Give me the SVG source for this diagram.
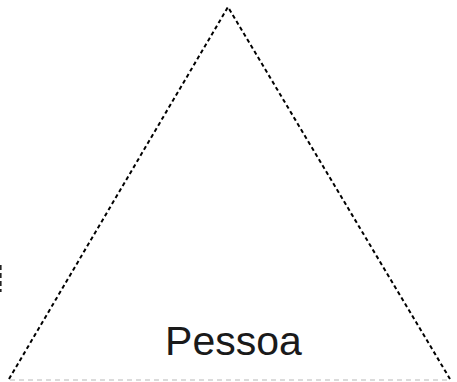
<svg xmlns="http://www.w3.org/2000/svg" width="457" height="382" viewBox="0 0 457 382">
<style>
.tri{fill:none;stroke:#000;stroke-width:2;stroke-dasharray:4,3}
.base{fill:none;stroke:#d0d0d0;stroke-width:1.5;stroke-dasharray:5,4}
.lbl{font-family:"Liberation Sans",Arial,sans-serif;font-size:41px;fill:#1a1a1a}
</style>
<rect width="457" height="382" fill="#fff"/>
<g id="connectors">
<line class="base" x1="10" y1="380" x2="450" y2="380"/>
<line x1="0.8" y1="265" x2="0.8" y2="292" stroke="#222" stroke-width="1.6" stroke-dasharray="5,3"/>
</g>
<g id="pessoa">
<path class="tri" d="M9,379 L228,7 L450,379"/>
<text class="lbl" x="233.5" y="355" text-anchor="middle">Pessoa</text>
</g>
</svg>
